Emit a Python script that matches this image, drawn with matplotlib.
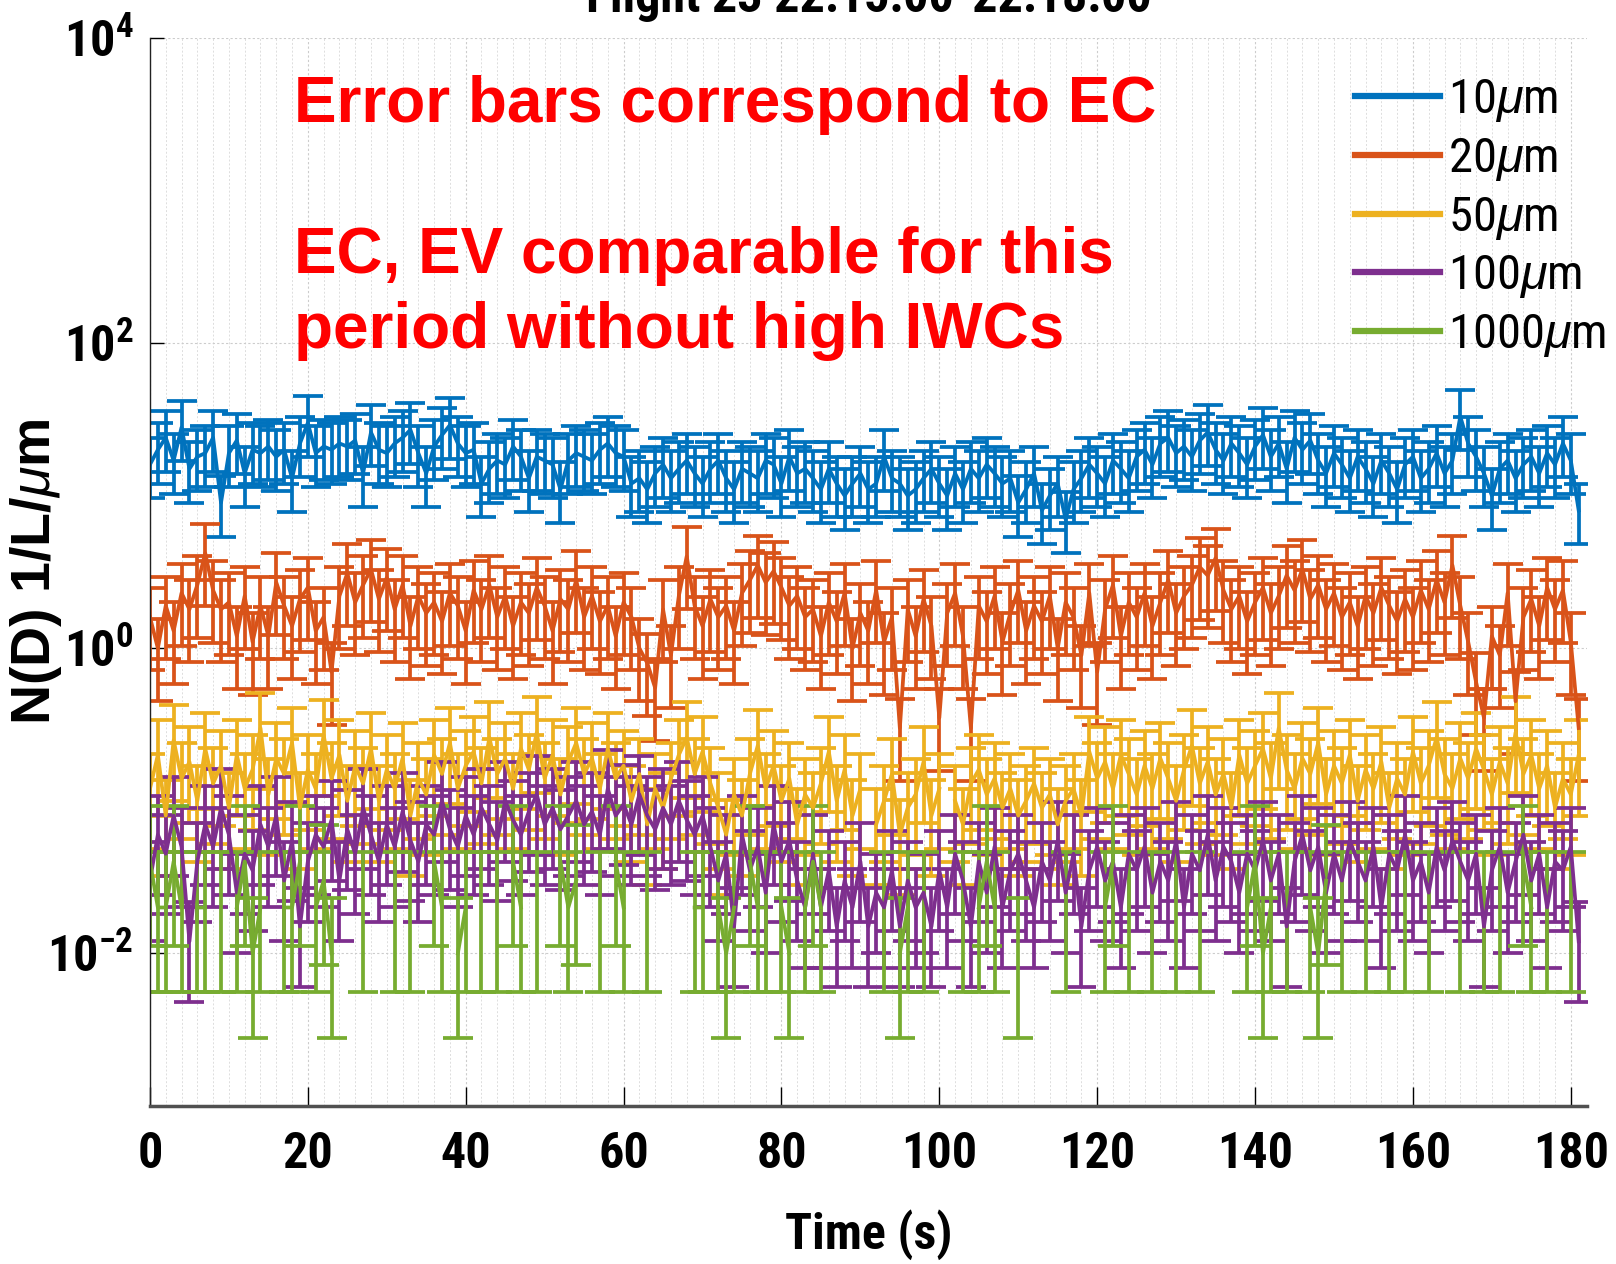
import numpy as np
import matplotlib
matplotlib.use("Agg")
import matplotlib.pyplot as plt
from matplotlib.lines import Line2D
from matplotlib.ticker import FixedLocator, MultipleLocator, NullLocator

nan = np.nan

# N(D) in 1/L/um, one value per second (nan = no particles)
nd_10 = [16, 20, 24, 17, 28, 15, 18, 19, 24, 9, 19, 23, 14, 20,
         19, 21, 18, 20, 13, 22, 30, 19, 21, 20, 22, 21, 23, 14,
         26, 20, 19, 22, 24, 27, 19, 14, 21, 25, 29, 22, 19, 20,
         12, 15, 17, 16, 21, 18, 13, 18, 17, 16, 11, 17, 19, 18,
         17, 20, 22, 19, 18, 12, 13, 11, 14, 16, 13, 15, 17, 14,
         12, 15, 17, 13, 11, 15, 14, 13, 17, 16, 12, 18, 14, 15,
         13, 11, 15, 12, 10, 12, 14, 11, 12, 18, 13, 12, 10, 11,
         13, 15, 12, 10, 14, 11, 15, 13, 16, 14, 12, 13, 9, 11,
         14, 8, 10, 12, 7, 11, 13, 16, 14, 12, 17, 15, 13, 18,
         20, 16, 22, 24, 19, 21, 18, 23, 26, 20, 17, 22, 19, 16,
         21, 25, 18, 22, 15, 24, 20, 23, 17, 14, 19, 16, 13, 18,
         15, 12, 17, 14, 11, 16, 18, 13, 15, 19, 14, 17, 33, 22,
         18, 14, 10, 15, 17, 13, 16, 18, 14, 19, 16, 22, 17, 8]

nd_20 = [1.6, 1.0, 1.9, 1.3, 2.3, 1.8, 2.6, 4.2, 2.4, 1.8, 2.0, 1.2, 2.2, 1.1,
         1.9, 1.2, 2.7, 1.9, 1.4, 2.1, 2.5, 1.3, 1.6, 0.7, 2.2, 3.1, 2.0, 2.6,
         3.3, 2.1, 2.9, 1.8, 2.6, 1.4, 2.2, 1.7, 2.0, 1.5, 2.3, 1.9, 1.3, 2.4,
         1.8, 2.6, 1.6, 2.2, 1.4, 2.0, 1.7, 2.5, 1.9, 1.3, 2.1, 1.8, 2.8, 1.6,
         2.2, 1.5, 1.9, 1.2, 2.0, 1.6, 1.0, 0.8, 0.55, 1.8, 0.9, 2.2, 4.0, 1.9,
         1.4, 2.1, 1.6, 1.9, 1.3, 2.3, 2.8, 3.5, 2.7, 3.2, 2.5, 1.9, 2.2, 1.6,
         1.8, 1.2, 2.0, 1.5, 2.3, 1.0, 1.7, 1.3, 2.4, 1.1, 1.6, 0.3, 1.8, 1.2,
         2.1, 1.4, 0.35, 1.7, 2.3, 1.2, 0.3, 1.9, 1.5, 2.2, 1.1, 1.7, 2.4, 1.3,
         1.9, 1.5, 2.2, 1.0, 2.0, 1.6, 0.9, 2.3, 0.7, 1.8, 2.6, 1.2, 2.0, 1.6,
         2.3, 1.4, 2.0, 2.8, 1.7, 2.2, 2.6, 3.4, 3.0, 3.9, 2.4, 1.8, 2.2, 1.5,
         2.0, 2.5, 1.7, 2.2, 3.0, 2.4, 3.3, 2.1, 2.6, 1.8, 2.3, 1.6, 2.0, 1.4,
         2.2, 1.7, 2.5, 1.9, 1.5, 2.1, 1.6, 2.4, 1.8, 2.8, 2.0, 3.5, 1.9, 1.1,
         0.6, 0.35, 1.2, 0.9, 2.3, 0.45, 1.6, 2.1, 1.4, 2.5, 1.8, 2.4, 1.1, 0.3]

nd_50 = [0.12, 0.2, 0.08, 0.25, 0.14, 0.18, 0.1, 0.22, 0.13, 0.17, 0.09, 0.2, 0.12, 0.16,
         0.3, 0.11, 0.19, 0.15, 0.24, 0.09, 0.16, 0.12, 0.27, 0.14, 0.2, 0.1, 0.17, 0.13,
         0.22, 0.1, 0.16, 0.12, 0.19, 0.08, 0.14, 0.11, 0.2, 0.15, 0.24, 0.12, 0.17, 0.21,
         0.13, 0.26, 0.15, 0.19, 0.12, 0.22, 0.16, 0.28, 0.14, 0.2, 0.11, 0.18, 0.24, 0.15,
         0.19, 0.12, 0.22, 0.14, 0.17, 0.1, 0.15, 0.07, 0.12, 0.09, 0.14, 0.2, 0.26, 0.15,
         0.21, 0.13, 0.09, 0.06, 0.11, 0.08, 0.15, 0.23, 0.12, 0.17, 0.1, 0.14, 0.07, 0.11,
         0.09, 0.13, 0.21, 0.1, 0.16, 0.08, 0.12, nan, 0.07, 0.1, 0.15, 0.06, 0.09, 0.11,
         0.18, 0.08, 0.12, nan, 0.1, 0.07, 0.13, 0.16, 0.11, 0.14, 0.09, 0.12, 0.08, 0.1,
         0.13, 0.09, 0.11, 0.07, 0.1, 0.12, 0.08, 0.21, 0.14, 0.18, 0.12, 0.2, 0.15, 0.11,
         0.17, 0.12, 0.19, 0.14, 0.1, 0.16, 0.23, 0.13, 0.18, 0.11, 0.15, 0.09, 0.2, 0.13,
         0.17, 0.22, 0.14, 0.3, 0.16, 0.12, 0.19, 0.15, 0.24, 0.11, 0.17, 0.13, 0.2, 0.1,
         0.16, 0.12, 0.18, 0.09, 0.14, 0.11, 0.21, 0.13, 0.17, 0.26, 0.15, 0.12, 0.19, 0.14,
         0.22, 0.16, 0.11, 0.18, 0.13, 0.28, 0.15, 0.2, 0.12, 0.17, 0.09, 0.14, 0.11, 0.2]

nd_100 = [0.03, 0.06, 0.045, 0.08, 0.05, 0.012, 0.04, 0.07, 0.05, 0.09, 0.06, 0.025, 0.045, 0.035,
          0.07, 0.05, 0.08, 0.03, 0.055, 0.015, 0.04, 0.06, 0.05, 0.075, 0.03, 0.065, 0.045, 0.09,
          0.06, 0.04, 0.07, 0.05, 0.085, 0.055, 0.04, 0.07, 0.06, 0.1, 0.065, 0.05, 0.08, 0.06,
          0.09, 0.07, 0.055, 0.1, 0.075, 0.06, 0.085, 0.11, 0.07, 0.09, 0.065, 0.08, 0.1, 0.07,
          0.085, 0.06, 0.12, 0.08, 0.095, 0.07, 0.11, 0.08, 0.065, 0.09, 0.07, 0.1, 0.075, 0.06,
          0.08, 0.05, 0.03, 0.045, 0.015, 0.06, 0.035, 0.05, 0.025, 0.07, 0.04, 0.055, 0.03, 0.02,
          0.045, 0.02, 0.035, 0.015, 0.03, 0.02, 0.04, 0.015, 0.025, 0.02, 0.035, 0.015, 0.03, 0.02,
          0.025, 0.015, 0.035, 0.02, 0.045, 0.03, 0.015, 0.04, 0.025, 0.05, 0.02, 0.035, 0.045, 0.03,
          0.02, 0.04, 0.03, 0.055, 0.025, 0.045, 0.015, 0.035, 0.05, 0.03, 0.04, 0.02, 0.045, 0.035,
          0.05, 0.025, 0.04, 0.03, 0.055, 0.02, 0.045, 0.035, 0.06, 0.03, 0.05, 0.04, 0.025, 0.045,
          0.035, 0.055, 0.03, 0.045, 0.015, 0.04, 0.06, 0.035, 0.05, 0.025, 0.045, 0.03, 0.055, 0.04,
          0.03, 0.05, 0.02, 0.045, 0.035, 0.06, 0.03, 0.04, 0.025, 0.05, 0.035, 0.055, 0.04, 0.03,
          0.045, 0.015, 0.035, 0.05, 0.025, 0.04, 0.06, 0.03, 0.045, 0.02, 0.04, 0.035, 0.05, 0.012]

nd_1000 = [0.04, 0.02, 0.02, 0.04, 0.02, nan, 0.02, 0.02, nan, 0.02, nan, 0.02, 0.04, 0.01,
           0.02, nan, nan, 0.02, 0.02, 0.04, nan, 0.02, 0.03, 0.01, nan, nan, nan, 0.02,
           nan, nan, nan, 0.02, nan, 0.02, nan, nan, 0.04, 0.02, nan, 0.01, 0.02, nan,
           0.02, nan, 0.02, nan, 0.04, 0.02, nan, 0.02, nan, nan, 0.04, 0.02, 0.03, nan,
           nan, 0.02, nan, 0.04, 0.02, nan, nan, 0.02, nan, nan, nan, nan, nan, 0.02,
           0.02, nan, 0.02, 0.01, 0.02, nan, 0.04, 0.02, 0.02, nan, 0.02, 0.01, nan, 0.02,
           0.04, 0.02, nan, nan, nan, nan, nan, nan, nan, 0.02, nan, 0.01, 0.02, nan,
           0.02, nan, nan, nan, nan, 0.02, nan, 0.02, 0.04, 0.02, nan, nan, 0.01, nan,
           nan, nan, nan, nan, 0.02, nan, nan, nan, nan, 0.02, 0.04, nan, 0.02, nan,
           nan, 0.02, nan, nan, 0.02, nan, nan, 0.02, nan, nan, nan, nan, nan, 0.02,
           0.04, 0.01, 0.02, nan, 0.02, nan, nan, 0.02, 0.01, 0.03, nan, 0.02, nan, nan,
           0.02, nan, nan, 0.02, nan, 0.02, nan, nan, 0.02, nan, nan, nan, 0.02, nan,
           nan, 0.02, nan, 0.02, nan, nan, 0.04, 0.02, nan, 0.02, nan, nan, 0.02, nan]

series = [nd_10, nd_20, nd_50, nd_100, nd_1000]
labels = ["10$\\mu$m", "20$\\mu$m", "50$\\mu$m", "100$\\mu$m", "1000$\\mu$m"]
colors = ["#0072BD", "#D95319", "#EDB120", "#7E2F8E", "#77AC30"]
# EC error bar ends as fraction of the value, per size bin
err_lo_frac = [0.40, 0.55, 0.60, 0.60, 0.72]
err_hi_frac = [0.50, 0.55, 0.70, 0.80, 1.30]

narrow = ['Roboto Condensed', 'Noto Sans Condensed', 'Liberation Sans Narrow',
          'Liberation Sans', 'DejaVu Sans']
plt.rcParams['font.family'] = narrow
plt.rcParams['mathtext.fontset'] = 'custom'
plt.rcParams['mathtext.rm'] = 'Liberation Sans'
plt.rcParams['mathtext.it'] = 'Liberation Sans:italic'
plt.rcParams['mathtext.bf'] = 'Liberation Sans:bold'

fig = plt.figure(figsize=(16.16, 12.64), dpi=100)
ax = fig.add_axes([0.0928, 0.125, 0.889, 0.845])

for vals, col, lo, hi in zip(series, colors, err_lo_frac, err_hi_frac):
    v = np.array(vals, dtype=float)
    t = np.arange(len(v))
    ax.errorbar(t, v, yerr=[v * lo, v * hi], color=col, lw=2.7, capsize=11, capthick=2.7)

ax.set_yscale('log')
ax.set_xlim(0, 182)
ax.set_ylim(1e-3, 1e4)

ax.xaxis.set_major_locator(MultipleLocator(20))
ax.xaxis.set_minor_locator(MultipleLocator(2))
ax.yaxis.set_major_locator(FixedLocator([1e-2, 1e0, 1e2, 1e4]))
ax.yaxis.set_minor_locator(NullLocator())
ax.set_yticklabels(["$\\mathdefault{10^{-2}}$", "$\\mathdefault{10^{0}}$",
                    "$\\mathdefault{10^{2}}$", "$\\mathdefault{10^{4}}$"])

ax.tick_params(axis='x', which='major', direction='in', length=14, width=1,
               labelsize=36, pad=18)
ax.tick_params(axis='x', which='minor', length=0)
ax.tick_params(axis='y', which='major', direction='in', length=10, width=1,
               labelsize=36, pad=12)
for lab in ax.get_xticklabels() + ax.get_yticklabels():
    lab.set_fontweight('bold')

ax.grid(True, which='major', axis='both', color='#cccccc', ls=(0, (2, 2)), lw=0.8)
ax.grid(True, which='minor', axis='x', color='#dddddd', ls=(0, (2, 2)), lw=0.7)
ax.set_axisbelow(True)

ax.spines['top'].set_visible(False)
ax.spines['right'].set_visible(False)
ax.spines['bottom'].set_color('#505050')
ax.spines['bottom'].set_linewidth(2.5)
ax.spines['left'].set_color('#222222')
ax.spines['left'].set_linewidth(1.0)

ax.set_xlabel('Time (s)', fontsize=36, fontweight='bold', va='center')
ax.xaxis.set_label_coords(0.5, -0.12)
ax.set_ylabel('N(D) 1/L/$\\mu$m', fontsize=40, fontweight='bold',
              family=['Liberation Sans', 'DejaVu Sans'], va='center')
ax.yaxis.set_label_coords(-0.0793, 0.5)

# title sits partly above the canvas, as in the original export
fig.text(0.5376, 1 - 12 / 1264, 'Flight 23 22:15:00-22:18:00', ha='center',
         va='baseline', fontsize=36, fontweight='bold')

red_font = dict(family=['Liberation Sans', 'DejaVu Sans'], fontweight='bold',
                fontsize=46, color='#ff0000')
fig.text(294 / 1616, 1 - 122 / 1264, 'Error bars correspond to EC', va='baseline', **red_font)
fig.text(294 / 1616, 1 - 273 / 1264, 'EC, EV comparable for this', va='baseline', **red_font)
fig.text(294 / 1616, 1 - 348 / 1264, 'period without high IWCs', va='baseline', **red_font)

handles = [Line2D([], [], color=c, lw=4.5) for c in colors]
ax.legend(handles, labels, loc='upper left', bbox_to_anchor=(0.839, 0.963),
          frameon=False, fontsize=35, handlelength=1.75, handletextpad=0.15,
          labelspacing=0.24, borderaxespad=0.0, borderpad=0.0)

fig.savefig('out.png', dpi=100)
